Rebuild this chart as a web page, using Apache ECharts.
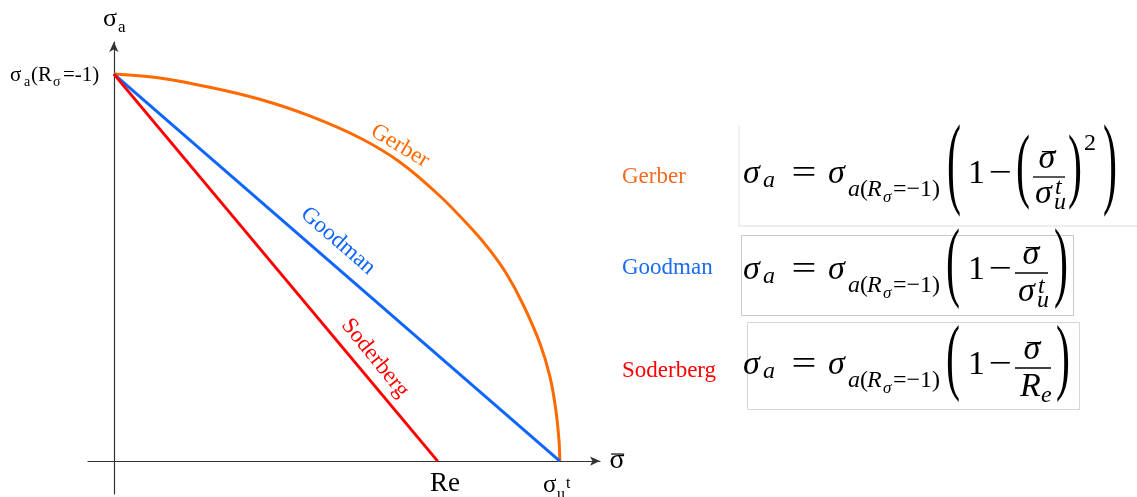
<!DOCTYPE html>
<html>
<head>
<meta charset="utf-8">
<script src="https://cdn.jsdelivr.net/npm/echarts@6/dist/echarts.min.js"></script>
<style>
html,body{margin:0;padding:0;background:#fff;}
#chart{width:1137px;height:497px;}
</style>
</head>
<body>
<div id="chart"></div>
<script>
// ---- data (σa(Rσ=-1) = 10, σu^t = 10, Re) ----
const seriesNames = ['Gerber', 'Goodman', 'Soderberg'];
const gerberX = [0, 1.03, 2.15, 3.27, 4.39, 5.52, 6.41, 7.31, 8.05, 8.43, 8.81, 9.17, 9.55, 9.78, 9.91, 9.98, 10];
const gerberY = [10, 9.90, 9.66, 9.35, 8.92, 8.35, 7.73, 6.85, 5.97, 5.45, 4.83, 4.06, 3.05, 2.17, 1.32, 0.54, 0];
const goodmanX = [0, 10];
const goodmanY = [10, 0];
const soderbergX = [0, 7.26];
const soderbergY = [10, 0];

const C_GER = '#ff6a00', C_GOOD = '#0f66ff', C_SOD = '#ff0000';
const SERIF = '"Liberation Serif", "DejaVu Serif", serif';

function zip(xs, ys) { return xs.map((x, i) => [x, ys[i]]); }

const G = [];
// text helper: x = left (or center), base = baseline
function T(text, x, base, size, o) {
  o = o || {};
  const sy = o.sy || 1, sx = o.sx || 1;
  const align = o.align || 'left';
  G.push({
    type: 'text', x: x, y: base - 0.34 * size * sy, scaleX: sx, scaleY: sy, z: 100,
    style: {
      text: text, x: 0, y: 0,
      font: (o.italic ? 'italic ' : '') + size + 'px ' + SERIF,
      fill: o.color || '#000',
      align: align, textAlign: align,
      verticalAlign: 'middle', textVerticalAlign: 'middle'
    }
  });
}
// big bracket glyph: centred at (cx, cy) with height h
function P(ch, cx, cy, h) {
  const size = 40, sy = h / (0.853 * size);
  G.push({
    type: 'text', x: cx, y: cy - 0.088 * size * sy, scaleX: 1.05, scaleY: sy, z: 100,
    style: {
      text: ch, x: 0, y: 0, font: size + 'px ' + SERIF, fill: '#000',
      align: 'center', textAlign: 'center', verticalAlign: 'middle', textVerticalAlign: 'middle'
    }
  });
}
function L(x1, y1, x2, y2, color, w) {
  G.push({ type: 'line', z: 90, shape: { x1, y1, x2, y2 }, style: { stroke: color || '#000', lineWidth: w || 1.3 } });
}
function R(x, y, w, h, color) {
  G.push({ type: 'rect', z: 80, shape: { x, y, width: w, height: h }, style: { fill: 'none', stroke: color, lineWidth: 1 } });
}
function rotLabel(text, cx, cy, deg, color) {
  G.push({
    type: 'text', x: cx, y: cy, rotation: -deg * Math.PI / 180, z: 100,
    style: {
      text: text, x: 0, y: 0, font: '23px ' + SERIF, fill: color,
      align: 'center', textAlign: 'center', verticalAlign: 'middle', textVerticalAlign: 'middle'
    }
  });
}
// σ with a bar (σ̄), centred at cx
function sigmaBar(cx, base, size, italic) {
  T('σ', cx, base, size, { italic: italic, align: 'center' });
  const w = size * 0.42, off = italic ? size * 0.06 : 0;
  L(cx - w / 2 + off, base - size * 0.57, cx + w / 2 + off, base - size * 0.57, '#000', 1.2);
}

// axis names
T('σ', 103, 28, 26);
T('a', 118, 33, 17);
T('σ', 10, 83, 21);
T('a', 24, 87, 14);
T('(R', 31, 83, 21);
T('σ', 53, 87, 14);
T('=-1)', 63, 83, 21);
T('Re', 430, 493, 27);
T('σ', 543, 494, 25);
T('u', 557, 500, 16);
T('t', 566, 489, 16);
sigmaBar(617, 470, 28, false);

// labels on the curves
rotLabel(seriesNames[0], 400, 146, 31, C_GER);
rotLabel(seriesNames[1], 338, 241, 41, C_GOOD);
rotLabel(seriesNames[2], 375, 358, 51, C_SOD);

// right-hand legend names
T(seriesNames[0], 622, 185, 23, { color: '#f26a1f' });
T(seriesNames[1], 622, 276, 23, { color: '#1a6cf0' });
T(seriesNames[2], 622, 379, 23, { color: '#ff0000' });

// boxes
L(739, 125, 739, 226, '#e2e2e2', 1);
L(739, 226, 1137, 226, '#dcdcdc', 1);
R(741.5, 235.5, 332, 80, '#c8c8c8');
R(747.5, 322.5, 332, 87, '#d6d6d6');

// common left part of each formula
function leftPart(A) {
  const b = A + 9;
  T('σ', 743, b, 34, { italic: true });
  T('a', 763, b + 3, 24, { italic: true });
  T('=', 804, b, 34, { align: 'center', sx: 1.3 });
  T('σ', 828, b, 34, { italic: true });
  T('a', 848, b + 12, 24, { italic: true });
  T('(', 860, b + 12, 24);
  T('R', 867, b + 12, 24, { italic: true });
  T('σ', 883, b + 17, 17, { italic: true });
  T('=−1)', 893, b + 12, 24);
  T('1', 968, b, 34);
  T('−', 1000, b, 34, { align: 'center', sx: 1.2 });
}

// Gerber formula
(function () {
  const A = 177;
  leftPart(A);
  P('(', 954, A, 87);
  P('(', 1023, A + 1, 70);
  sigmaBar(1047, A - 6, 34, true);
  L(1033, A, 1065, A, '#000', 1.3);
  T('σ', 1035, A + 29, 34, { italic: true });
  T('u', 1054, A + 34, 24, { italic: true });
  T('t', 1055, A + 19, 24, { italic: true });
  P(')', 1075, A + 1, 70);
  T('2', 1084, 152, 24);
  P(')', 1110, A, 87);
})();

// Goodman formula
(function () {
  const A = 273;
  leftPart(A);
  P('(', 953, A + 2, 75);
  sigmaBar(1031, A - 6, 34, true);
  L(1015, A, 1048, A, '#000', 1.3);
  T('σ', 1018, A + 31, 34, { italic: true });
  T('u', 1037, A + 36, 24, { italic: true });
  T('t', 1038, A + 22, 24, { italic: true });
  P(')', 1061, A + 2, 75);
})();

// Soderberg formula
(function () {
  const A = 368;
  leftPart(A);
  P('(', 953, A + 1, 73);
  sigmaBar(1032, A - 6, 34, true);
  L(1015, A, 1051, A, '#000', 1.3);
  T('R', 1020, A + 31, 34, { italic: true });
  T('e', 1041, A + 36, 24, { italic: true });
  P(')', 1063, A + 1, 73);
})();

const chart = echarts.init(document.getElementById('chart'), null, { renderer: 'canvas' });
const axisCommon = {
  type: 'value',
  axisLine: { show: true, onZero: true, symbol: ['none', 'arrow'], symbolSize: [7, 10], lineStyle: { color: '#333', width: 1.2 } },
  axisTick: { show: false },
  axisLabel: { show: false },
  splitLine: { show: false }
};
chart.setOption({
  animation: false,
  backgroundColor: '#fff',
  grid: { left: 88, top: 42, right: 537, bottom: 3, containLabel: false },
  xAxis: Object.assign({}, axisCommon, { min: -0.58, max: 10.9 }),
  yAxis: Object.assign({}, axisCommon, { min: -0.85, max: 10.83 }),
  series: [
    { name: seriesNames[0], type: 'line', data: zip(gerberX, gerberY), smooth: 0.3, showSymbol: false, symbol: 'none',
      lineStyle: { color: C_GER, width: 3 }, z: 3 },
    { name: seriesNames[1], type: 'line', data: zip(goodmanX, goodmanY), showSymbol: false, symbol: 'none',
      lineStyle: { color: C_GOOD, width: 3 }, z: 4 },
    { name: seriesNames[2], type: 'line', data: zip(soderbergX, soderbergY), showSymbol: false, symbol: 'none',
      lineStyle: { color: C_SOD, width: 3 }, z: 5 }
  ],
  graphic: { elements: G }
});
</script>
</body>
</html>
